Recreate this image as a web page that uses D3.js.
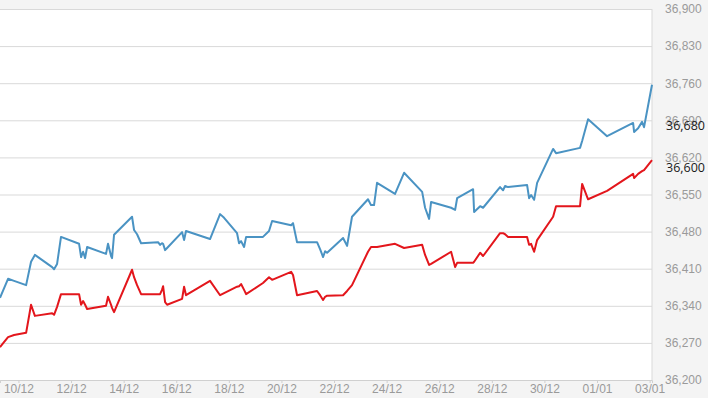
<!DOCTYPE html>
<html>
<head>
<meta charset="utf-8">
<script src="https://cdn.jsdelivr.net/npm/d3@7"></script>
<style>
	body { margin: 0; background: #f4f4f4; }
	svg { display: block; }
</style>
</head>
<body>
<svg class="chart"></svg>
<script>

// timestamps shared by both series
var times = [
	'2018-12-09 07:10','2018-12-09 14:30','2018-12-09 20:00','2018-12-10 07:00','2018-12-10 11:30',
	'2018-12-10 15:00','2018-12-11 06:45','2018-12-11 08:30','2018-12-11 11:15','2018-12-11 14:50',
	'2018-12-12 07:20','2018-12-12 09:10','2018-12-12 11:00','2018-12-12 12:50','2018-12-12 14:40',
	'2018-12-13 07:55','2018-12-13 09:45','2018-12-13 12:30','2018-12-13 13:25','2018-12-13 15:15',
	'2018-12-14 07:40','2018-12-14 09:30','2018-12-14 12:15','2018-12-14 15:55','2018-12-15 07:25',
	'2018-12-15 09:15','2018-12-15 11:00','2018-12-15 12:00','2018-12-15 13:50','2018-12-15 15:40',
	'2018-12-16 05:20','2018-12-16 07:10','2018-12-16 08:55','2018-12-17 06:50','2018-12-17 16:00',
	'2018-12-17 19:40','2018-12-18 07:30','2018-12-18 09:20','2018-12-18 11:10','2018-12-18 13:55',
	'2018-12-18 15:45','2018-12-19 07:10','2018-12-19 12:40','2018-12-19 15:30','2018-12-20 08:50',
	'2018-12-20 10:35','2018-12-20 14:15','2018-12-21 08:30','2018-12-21 11:15','2018-12-21 14:00',
	'2018-12-21 15:50','2018-12-21 17:40','2018-12-22 08:15','2018-12-22 11:55','2018-12-22 16:25',
	'2018-12-23 07:00','2018-12-23 09:45','2018-12-23 12:30','2018-12-23 15:15','2018-12-24 07:40',
	'2018-12-24 15:55','2018-12-25 08:25','2018-12-25 11:05','2018-12-25 14:45','2018-12-25 16:35',
	'2018-12-26 10:50','2018-12-26 14:30','2018-12-26 16:20','2018-12-27 06:55','2018-12-27 07:50',
	'2018-12-27 13:20','2018-12-27 16:00','2018-12-28 07:30','2018-12-28 10:15','2018-12-28 12:05',
	'2018-12-28 14:50','2018-12-29 08:10','2018-12-29 10:00','2018-12-29 11:50','2018-12-29 14:35',
	'2018-12-29 17:20','2018-12-30 07:55','2018-12-30 10:35','2018-12-31 08:30','2018-12-31 10:25',
	'2018-12-31 15:50','2019-01-01 09:10','2019-01-02 08:55','2019-01-02 09:50','2019-01-02 13:30',
	'2019-01-02 17:05','2019-01-02 18:55','2019-01-03 02:10'
];

var blueValues = [
	36355,36391,36387,36379,36423, 36436,36413,36409,36419,36470,
	36457,36432,36442,36430,36451, 36438,36457,36434,36430,36474,
	36508,36483,36475,36458,36460, 36455,36458,36457,36445,36449,
	36479,36464,36481,36466,36513, 36506,36477,36458,36462,36451,
	36470,36470,36481,36500,36492, 36496,36460,36460,36447,36432,
	36443,36440,36468,36453,36508, 36541,36530,36530,36572,36551,
	36591,36555,36525,36504,36536, 36525,36521,36543,36560,36517,
	36528,36525,36564,36558,36566, 36564,36568,36543,36549,36540,
	36572,36636,36628,36638,36651, 36692,36660,36685,36668,36675,
	36687,36677,36757
];

var redValues = [
	36262,36281,36285,36289,36342, 36321,36326,36323,36338,36362,
	36362,36342,36349,36342,36334, 36340,36357,36342,36336,36328,
	36408,36394,36379,36362,36362, 36362,36370,36377,36347,36342,
	36353,36376,36360,36387,36360, 36364,36376,36377,36381,36370,
	36362,36383,36394,36389,36404, 36398,36360,36368,36360,36351,
	36357,36359,36360,36368,36379, 36442,36451,36451,36451,36457,
	36449,36455,36436,36417,36419, 36442,36413,36421,36421,36423,
	36440,36434,36477,36477,36475, 36470,36470,36455,36457,36442,
	36464,36508,36528,36528,36570, 36541,36557,36589,36581,36589,
	36594,36596,36615
];

var xTickDates = ['2018-12-10','2018-12-12','2018-12-14','2018-12-16','2018-12-18','2018-12-20',
	'2018-12-22','2018-12-24','2018-12-26','2018-12-28','2018-12-30','2019-01-01','2019-01-03'];

var yTickValues = [36200,36270,36340,36410,36480,36550,36620,36690,36760,36830,36900];

// current values shown beside the axis
var currentLabels = [36680, 36600];


var config = {
	width: 708,
	height: 398,
	plotW: 652,
	top: 9,
	bottom: 380,
	blue: '#4a93c3',
	red: '#e3161c',
	font: '"Open Sans", sans-serif'
};

var parseTime = d3.timeParse('%Y-%m-%d %H:%M');
var parseDay = d3.timeParse('%Y-%m-%d');

var blueData = times.map((t,i) => ({t: parseTime(t), v: blueValues[i]}));
var redData = times.map((t,i) => ({t: parseTime(t), v: redValues[i]}));

var xScale = d3.scaleTime()
				.domain(d3.extent(blueData, d => d.t))
				.range([0, config.plotW]);

var yScale = d3.scaleLinear()
				.domain([36200, 36900])
				.range([config.bottom, config.top]);

var svg = d3.select('.chart')
			.attr('width', config.width)
			.attr('height', config.height)
			.style('font-family', config.font);

// plot background
svg.append('rect')
	.attr('x', 0)
	.attr('y', config.top)
	.attr('width', config.plotW)
	.attr('height', config.bottom - config.top)
	.attr('fill', '#fff');

// grid + y labels
var yAxis = svg.append('g')
	.call(d3.axisRight(yScale)
		.tickValues(yTickValues)
		.tickSize(config.plotW)
		.tickPadding(13)
		.tickFormat(d3.format(',')));

yAxis.select('.domain').remove();
yAxis.selectAll('line').attr('stroke', '#d9d9d9');
yAxis.selectAll('text')
	.attr('fill', '#9a9a9a')
	.style('font-size', '12px');

// right border
svg.append('line')
	.attr('x1', config.plotW).attr('x2', config.plotW)
	.attr('y1', config.top).attr('y2', config.bottom)
	.attr('stroke', '#d9d9d9');

// x axis
var xAxis = svg.append('g')
	.attr('transform', 'translate(0,' + config.bottom + ')')
	.call(d3.axisBottom(xScale)
		.tickValues(xTickDates.map(parseDay))
		.tickSize(3)
		.tickPadding(1)
		.tickFormat(d3.timeFormat('%d/%m')));

xAxis.select('.domain').attr('stroke', '#d0d0d0');
xAxis.selectAll('line').attr('stroke', '#cfcfcf');
xAxis.selectAll('text')
	.attr('fill', '#9a9a9a')
	.style('font-size', '12px');

var lineGen = d3.line()
				.x(d => xScale(d.t))
				.y(d => yScale(d.v));

svg.append('path')
	.datum(blueData)
	.attr('d', lineGen)
	.attr('fill', 'none')
	.attr('stroke', config.blue)
	.attr('stroke-width', 2)
	.attr('stroke-linejoin', 'round');

svg.append('path')
	.datum(redData)
	.attr('d', lineGen)
	.attr('fill', 'none')
	.attr('stroke', config.red)
	.attr('stroke-width', 2)
	.attr('stroke-linejoin', 'round');

// current value labels
svg.selectAll('.current')
	.data(currentLabels)
	.enter()
	.append('text')
	.attr('class', 'current')
	.attr('x', config.plotW + 14)
	.attr('y', d => yScale(d))
	.attr('dy', '0.35em')
	.attr('fill', '#1a1a1a')
	.style('font-size', '12.5px')
	.text(d3.format(','));

</script>
</body>
</html>
